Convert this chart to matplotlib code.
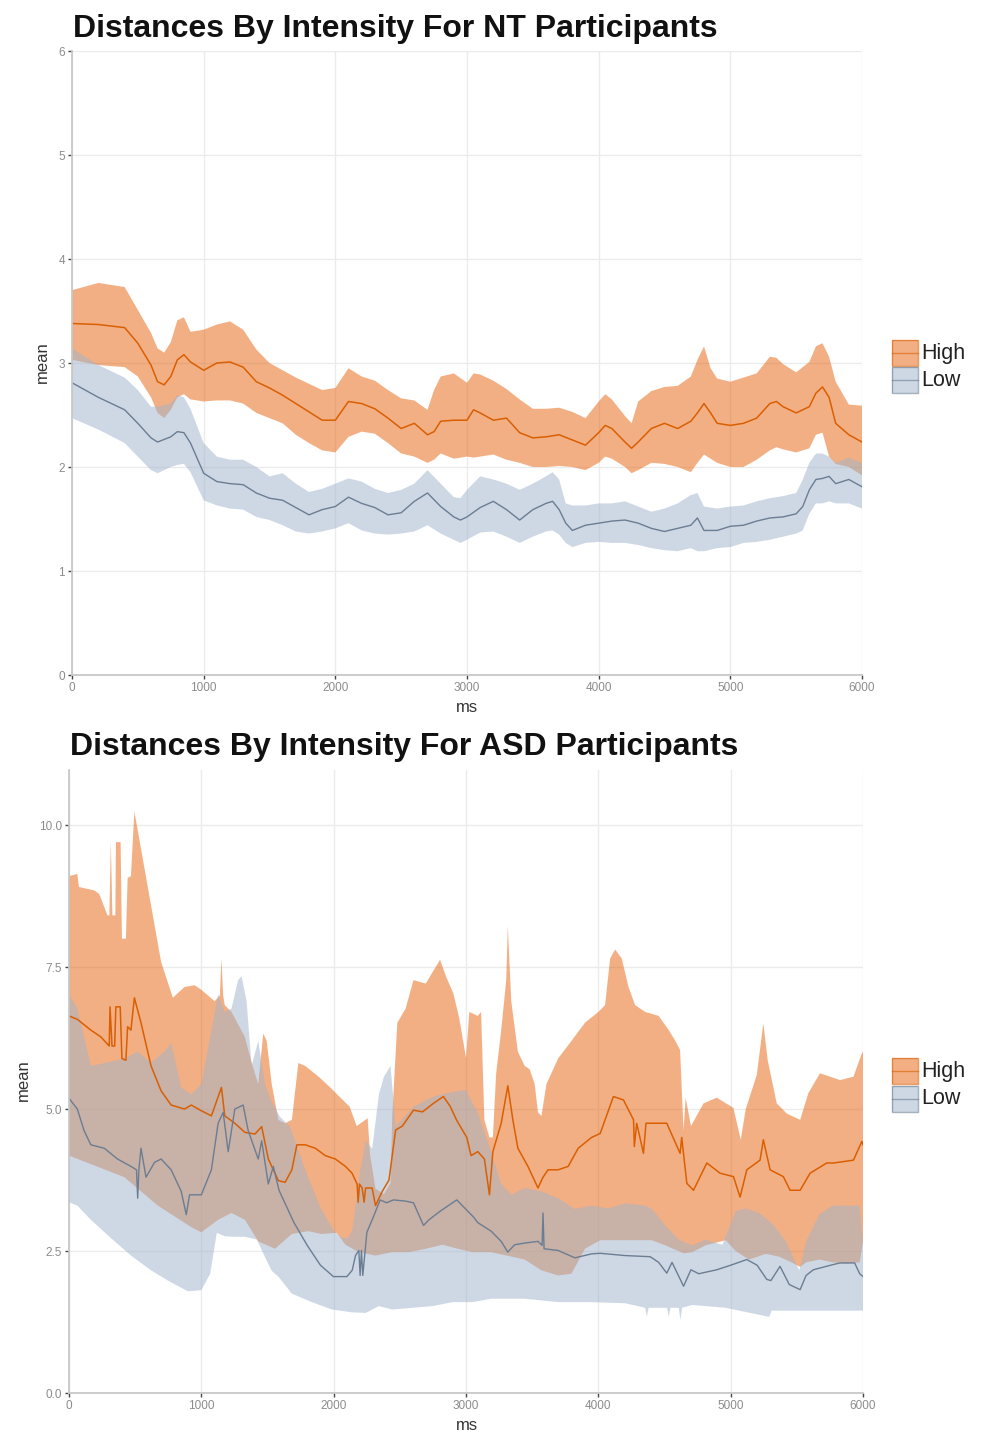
import numpy as np
import matplotlib
matplotlib.use("Agg")
import matplotlib.pyplot as plt
from matplotlib.patches import Rectangle
from matplotlib.lines import Line2D

plt.rcParams['font.family'] = ['Liberation Sans', 'DejaVu Sans']

# ---------------- NT participants ----------------
nt_high_ms = [0, 200, 400, 500, 600, 650, 700, 750, 800, 850, 900, 1000, 1100, 1200, 1300, 1400, 1500, 1600, 1700, 1800,
              1900, 2000, 2100, 2200, 2300, 2400, 2500, 2600, 2700, 2750, 2800, 2900, 3000, 3050, 3100, 3200, 3300, 3400, 3500, 3600,
              3700, 3800, 3900, 4000, 4050, 4100, 4200, 4250, 4300, 4400, 4500, 4600, 4700, 4750, 4800, 4850, 4900, 5000, 5100, 5200,
              5300, 5350, 5400, 5500, 5600, 5650, 5700, 5750, 5800, 5900, 6000]
nt_high_mean = [3.38, 3.37, 3.34, 3.19, 2.98, 2.82, 2.79, 2.87, 3.03, 3.08, 3.01, 2.93, 3.00, 3.01, 2.96, 2.82, 2.76, 2.69, 2.61, 2.53,
                2.45, 2.45, 2.63, 2.61, 2.56, 2.47, 2.37, 2.42, 2.31, 2.34, 2.44, 2.45, 2.45, 2.55, 2.52, 2.45, 2.47, 2.33, 2.28, 2.29,
                2.31, 2.26, 2.21, 2.33, 2.40, 2.37, 2.24, 2.18, 2.24, 2.37, 2.42, 2.37, 2.44, 2.52, 2.61, 2.52, 2.42, 2.40, 2.42, 2.47,
                2.61, 2.63, 2.58, 2.52, 2.58, 2.71, 2.77, 2.67, 2.42, 2.31, 2.24]
nt_high_upper = [3.70, 3.77, 3.73, 3.51, 3.29, 3.14, 3.10, 3.20, 3.41, 3.44, 3.30, 3.32, 3.37, 3.40, 3.32, 3.13, 3.00, 2.93, 2.86, 2.80,
                 2.74, 2.76, 2.95, 2.87, 2.83, 2.74, 2.66, 2.64, 2.55, 2.74, 2.87, 2.90, 2.81, 2.90, 2.89, 2.83, 2.75, 2.65, 2.56, 2.56,
                 2.57, 2.53, 2.47, 2.63, 2.70, 2.65, 2.49, 2.42, 2.63, 2.73, 2.77, 2.78, 2.87, 3.03, 3.16, 2.95, 2.85, 2.82, 2.86, 2.90,
                 3.06, 3.05, 2.99, 2.91, 3.01, 3.16, 3.19, 3.06, 2.82, 2.60, 2.59]
nt_high_lower = [3.03, 2.98, 2.96, 2.87, 2.67, 2.52, 2.47, 2.55, 2.67, 2.70, 2.65, 2.63, 2.64, 2.64, 2.61, 2.52, 2.47, 2.42, 2.31, 2.23,
                 2.16, 2.14, 2.29, 2.34, 2.32, 2.23, 2.13, 2.10, 2.04, 2.07, 2.13, 2.08, 2.10, 2.09, 2.10, 2.12, 2.07, 2.04, 2.00, 2.00,
                 2.01, 2.00, 1.97, 2.04, 2.10, 2.08, 2.00, 1.94, 1.97, 2.04, 2.03, 2.00, 1.95, 2.04, 2.12, 2.08, 2.04, 2.00, 2.00, 2.07,
                 2.16, 2.19, 2.17, 2.14, 2.18, 2.31, 2.33, 2.10, 2.03, 2.00, 1.92]

nt_low_ms = [0, 200, 400, 500, 600, 650, 750, 800, 850, 900, 1000, 1100, 1200, 1300, 1400, 1500, 1600, 1700, 1800, 1900,
             2000, 2100, 2200, 2300, 2400, 2500, 2600, 2700, 2800, 2900, 2950, 3000, 3100, 3200, 3300, 3400, 3500, 3600,
             3650, 3700, 3750, 3800, 3900, 4000, 4100, 4200, 4300, 4400, 4500, 4600, 4700, 4750, 4800, 4900, 5000, 5100,
             5200, 5300, 5400, 5500, 5550, 5600, 5650, 5700, 5750, 5800, 5900, 6000]
nt_low_mean = [2.81, 2.67, 2.55, 2.42, 2.28, 2.24, 2.29, 2.34, 2.33, 2.23, 1.94, 1.86, 1.84, 1.83, 1.75, 1.70, 1.68, 1.61, 1.54, 1.59,
               1.62, 1.71, 1.65, 1.61, 1.54, 1.56, 1.67, 1.75, 1.62, 1.52, 1.49, 1.52, 1.61, 1.67, 1.59, 1.49, 1.59, 1.65,
               1.67, 1.59, 1.46, 1.39, 1.44, 1.46, 1.48, 1.49, 1.46, 1.41, 1.38, 1.41, 1.44, 1.51, 1.39, 1.39, 1.43, 1.44,
               1.48, 1.51, 1.52, 1.55, 1.62, 1.78, 1.88, 1.89, 1.91, 1.84, 1.88, 1.81]
nt_low_upper = [3.14, 2.98, 2.86, 2.74, 2.58, 2.58, 2.61, 2.69, 2.67, 2.56, 2.23, 2.10, 2.07, 2.07, 2.00, 1.91, 1.94, 1.84, 1.76, 1.79,
                1.84, 1.89, 1.86, 1.79, 1.75, 1.78, 1.84, 1.97, 1.84, 1.71, 1.70, 1.78, 1.91, 1.88, 1.84, 1.78, 1.84, 1.91,
                1.95, 1.88, 1.65, 1.63, 1.63, 1.65, 1.65, 1.67, 1.62, 1.57, 1.60, 1.65, 1.73, 1.75, 1.62, 1.60, 1.62, 1.63,
                1.67, 1.70, 1.72, 1.75, 1.88, 2.04, 2.13, 2.13, 2.10, 2.04, 2.09, 2.04]
nt_low_lower = [2.47, 2.36, 2.23, 2.10, 1.97, 1.94, 2.00, 2.02, 2.03, 1.95, 1.68, 1.63, 1.60, 1.59, 1.52, 1.49, 1.44, 1.38, 1.36, 1.38,
                1.41, 1.46, 1.39, 1.36, 1.35, 1.36, 1.38, 1.44, 1.36, 1.30, 1.27, 1.30, 1.37, 1.38, 1.33, 1.27, 1.33, 1.38,
                1.39, 1.35, 1.27, 1.23, 1.27, 1.28, 1.27, 1.27, 1.25, 1.22, 1.20, 1.19, 1.22, 1.19, 1.19, 1.22, 1.23, 1.27,
                1.28, 1.30, 1.33, 1.36, 1.39, 1.55, 1.65, 1.65, 1.67, 1.65, 1.65, 1.60]

# ---------------- ASD participants ----------------
asd_high_mean_ms = [0, 63, 165, 241, 304, 310, 325, 345, 354, 387, 400, 430, 443, 468, 494, 544, 620, 696, 772, 873,
                    924, 1000, 1076, 1152, 1177, 1253, 1329, 1405, 1456, 1506, 1582, 1633, 1684, 1722, 1785, 1861, 1937, 2013, 2089, 2139,
                    2177, 2185, 2195, 2215, 2230, 2241, 2291, 2316, 2367, 2418, 2468, 2519, 2603, 2671, 2754, 2829, 2880, 2930, 3006, 3038,
                    3089, 3139, 3177, 3203, 3266, 3316, 3354, 3392, 3468, 3544, 3582, 3620, 3696, 3772, 3848, 3949, 4014, 4114, 4190, 4266,
                    4272, 4290, 4341, 4360, 4517, 4618, 4630, 4669, 4719, 4820, 4920, 5021, 5071, 5122, 5222, 5247, 5298, 5398, 5449, 5525,
                    5600, 5726, 5777, 5928, 5991, 6000]
asd_high_mean = [6.64, 6.58, 6.39, 6.27, 6.11, 6.80, 6.11, 6.11, 6.80, 6.80, 5.89, 5.86, 6.45, 6.39, 6.96, 6.52, 5.76, 5.32, 5.07, 5.00,
                 5.07, 4.97, 4.88, 5.38, 4.88, 4.75, 4.59, 4.56, 4.69, 4.12, 3.74, 3.71, 3.93, 4.37, 4.37, 4.31, 4.18, 4.12, 3.99, 3.87,
                 3.68, 3.36, 3.68, 3.61, 3.36, 3.61, 3.61, 3.30, 3.55, 3.75, 4.63, 4.70, 4.98, 4.95, 5.10, 5.22, 5.05, 4.80, 4.50, 4.18,
                 4.25, 4.12, 3.49, 4.25, 4.75, 5.41, 4.81, 4.31, 3.99, 3.61, 3.80, 3.93, 3.93, 3.99, 4.31, 4.50, 4.57, 5.22, 5.16, 4.81,
                 4.34, 4.75, 4.22, 4.75, 4.75, 4.22, 4.50, 3.69, 3.57, 4.05, 3.87, 3.81, 3.45, 3.93, 4.10, 4.46, 3.93, 3.81, 3.57, 3.57,
                 3.87, 4.05, 4.05, 4.10, 4.43, 4.37]

asd_high_upper_ms = [0, 63, 75, 190, 228, 291, 305, 316, 328, 350, 355, 390, 400, 430, 443, 468, 494, 696, 785, 873,
                     949, 1000, 1050, 1101, 1140, 1152, 1165, 1177, 1228, 1329, 1380, 1430, 1468, 1494, 1532, 1582, 1633, 1684, 1733, 1785,
                     1886, 1970, 2121, 2174, 2257, 2275, 2316, 2380, 2430, 2443, 2481, 2544, 2603, 2696, 2804, 2848, 2904, 2949,
                     3000, 3025, 3089, 3114, 3139, 3177, 3203, 3228, 3266, 3304, 3316, 3342, 3392, 3443, 3481, 3519, 3544, 3570, 3608, 3696,
                     3797, 3899, 4000, 4051, 4089, 4127, 4177, 4228, 4278, 4354, 4456, 4532, 4582, 4618, 4644, 4660, 4700, 4795, 4895, 5021,
                     5076, 5114, 5197, 5247, 5280, 5348, 5424, 5525, 5587, 5675, 5827, 5928, 5991, 6000]
asd_high_upper = [9.10, 9.14, 8.91, 8.85, 8.79, 8.41, 8.41, 9.70, 8.41, 8.41, 9.70, 9.70, 8.00, 8.00, 9.07, 9.10, 10.24, 7.59, 6.96, 7.15,
                  7.18, 7.10, 7.00, 6.90, 7.00, 7.65, 7.00, 6.83, 6.71, 6.27, 5.82, 5.44, 6.33, 6.20, 5.44, 4.81, 4.75, 4.81, 5.81, 5.76,
                  5.57, 5.39, 5.04, 4.70, 4.84, 4.20, 3.60, 3.50, 3.70, 4.90, 6.52, 6.77, 7.27, 7.21, 7.63, 7.34, 7.04, 6.60,
                  5.90, 6.71, 6.64, 6.71, 4.81, 4.50, 4.50, 5.63, 6.39, 7.27, 8.22, 6.90, 6.01, 5.76, 5.70, 5.44, 4.94, 4.88, 5.44, 5.89,
                  6.20, 6.52, 6.71, 6.83, 7.65, 7.81, 7.65, 7.15, 6.83, 6.71, 6.64, 6.39, 6.20, 6.04, 4.62, 5.20, 4.70, 5.10, 5.20, 5.02,
                  4.46, 5.00, 5.60, 6.51, 5.86, 5.10, 4.92, 4.81, 5.28, 5.63, 5.51, 5.57, 5.98, 6.01]

asd_high_lower_ms = [0, 165, 418, 671, 924, 1000, 1127, 1228, 1329, 1430, 1557, 1684, 1810, 1906, 2023, 2089, 2190, 2316, 2443, 2570,
                     2696, 2823, 2937, 3051, 3190, 3443, 3570, 3696, 3797, 3899, 4014, 4203, 4405, 4506, 4644, 4709, 4810, 4962, 5038, 5139,
                     5266, 5367, 5468, 5525, 5570, 5671, 5772, 5873, 5975, 6000]
asd_high_lower = [4.18, 4.03, 3.80, 3.30, 2.92, 2.83, 3.05, 3.17, 3.05, 2.67, 2.54, 2.80, 2.85, 2.80, 2.82, 2.61, 2.48, 2.42, 2.48, 2.48,
                  2.54, 2.61, 2.54, 2.48, 2.48, 2.35, 2.16, 2.07, 2.10, 2.54, 2.69, 2.69, 2.69, 2.60, 2.46, 2.48, 2.60, 2.69, 2.50, 2.35,
                  2.45, 2.40, 2.29, 2.22, 2.30, 2.35, 2.30, 2.28, 2.30, 2.67]

asd_low_mean_ms = [0, 63, 114, 165, 266, 367, 468, 510, 519, 528, 544, 582, 646, 696, 772, 848, 886, 911, 1000, 1076,
                   1127, 1165, 1203, 1253, 1316, 1354, 1430, 1456, 1506, 1544, 1587, 1700, 1800, 1900, 1998, 2100, 2140, 2165, 2190, 2200,
                   2210, 2220, 2251, 2300, 2351, 2400, 2452, 2540, 2603, 2679, 2720, 2804, 2930, 3056, 3089, 3190,
                   3266, 3316, 3367, 3443, 3544, 3575, 3582, 3590, 3696, 3823, 3949, 4014, 4203, 4392, 4456, 4517, 4557, 4644, 4700, 4759,
                   4895, 5000, 5122, 5200, 5273, 5304, 5373, 5443, 5525, 5570, 5625, 5772, 5827, 5937, 5975, 6000]
asd_low_mean = [5.19, 5.00, 4.62, 4.37, 4.31, 4.12, 3.99, 3.93, 3.43, 3.93, 4.31, 3.80, 4.06, 4.12, 3.93, 3.55, 3.14, 3.49, 3.49, 3.93,
                4.75, 4.94, 4.25, 5.00, 5.07, 4.62, 4.12, 4.44, 3.68, 3.99, 3.57, 3.00, 2.60, 2.25, 2.05, 2.05, 2.16, 2.42, 2.51, 2.07,
                2.51, 2.07, 2.83, 3.10, 3.40, 3.35, 3.40, 3.38, 3.35, 2.95, 3.05, 3.20, 3.40, 3.10, 3.00, 2.85,
                2.67, 2.48, 2.61, 2.64, 2.67, 2.60, 3.17, 2.54, 2.51, 2.38, 2.45, 2.46, 2.42, 2.40, 2.30, 2.11, 2.30, 1.88, 2.17, 2.10,
                2.17, 2.25, 2.35, 2.25, 2.00, 1.98, 2.23, 1.91, 1.82, 2.07, 2.17, 2.26, 2.29, 2.29, 2.10, 2.05]

asd_low_upper_ms = [0, 63, 165, 291, 418, 519, 620, 722, 772, 848, 924, 1000, 1076, 1127, 1177, 1228, 1278, 1304, 1342, 1380,
                    1430, 1481, 1532, 1595, 1670, 1796, 1897, 1998, 2050, 2100, 2140, 2200, 2241, 2291, 2342, 2380, 2430, 2468, 2603,
                    2754, 2899, 3006, 3013, 3089, 3190, 3266, 3342, 3443, 3570, 3696, 3823, 3949, 4076, 4203, 4354, 4405, 4506, 4608,
                    4709, 4810, 4937, 5038, 5114, 5215, 5316, 5418, 5519, 5570, 5671, 5772, 5873, 5975, 6000]
asd_low_upper = [7.02, 6.77, 5.76, 5.82, 5.89, 6.01, 5.82, 6.01, 6.17, 5.38, 5.26, 5.44, 6.39, 7.02, 6.71, 6.77, 7.27, 7.34, 6.90, 5.76,
                 6.20, 5.44, 5.13, 4.86, 4.69, 3.87, 3.28, 2.87, 2.75, 2.72, 2.85, 3.90, 4.44, 4.30, 5.26, 5.57, 5.76, 4.69, 5.04,
                 5.22, 5.30, 5.34, 5.26, 4.94, 4.25, 3.68, 3.49, 3.61, 3.55, 3.43, 3.24, 3.30, 3.25, 3.34, 3.30, 3.24, 2.95, 2.70,
                 2.60, 2.70, 2.61, 3.20, 3.25, 3.17, 2.98, 2.67, 2.16, 2.67, 3.15, 3.30, 3.30, 3.30, 2.67]

asd_low_lower_ms = [0, 63, 165, 316, 468, 620, 747, 899, 1000, 1067, 1117, 1177, 1253, 1329, 1420, 1480, 1532, 1582, 1684, 1835,
                    1987, 2139, 2241, 2342, 2443, 2595, 2747, 2899, 3051, 3190, 3443, 3696, 3949, 4203, 4354, 4367, 4380, 4519, 4532, 4545,
                    4608, 4620, 4633, 4709, 4962, 5291, 5310, 5468, 5722, 6000]
asd_low_lower = [3.36, 3.30, 3.05, 2.73, 2.42, 2.16, 1.98, 1.79, 1.81, 2.10, 2.82, 2.76, 2.75, 2.75, 2.70, 2.40, 2.15, 2.05, 1.75, 1.60,
                 1.47, 1.42, 1.41, 1.53, 1.47, 1.50, 1.53, 1.60, 1.60, 1.66, 1.66, 1.60, 1.60, 1.58, 1.50, 1.34, 1.50, 1.50, 1.34, 1.50,
                 1.50, 1.28, 1.50, 1.55, 1.50, 1.34, 1.45, 1.45, 1.45, 1.45]

x_ticks = [0, 1000, 2000, 3000, 4000, 5000, 6000]
nt_y_ticks = [0, 1, 2, 3, 4, 5, 6]
asd_y_ticks = [0.0, 2.5, 5.0, 7.5, 10.0]
groups = ["High", "Low"]

HIGH_FILL = "#E9610B"
LOW_FILL = "#9FB3CB"
HIGH_LINE = "#D95F02"
LOW_LINE = "#6B7D93"
ALPHA = 0.5

W, H = 983, 1433
fig = plt.figure(figsize=(W / 100, H / 100), dpi=100)


def fx(px):
    return px / W


def fy(py):
    return 1 - py / H


def ribbon(ax, xu, yu, xl, yl, color):
    xs = np.concatenate([np.asarray(xu, float), np.asarray(xl, float)[::-1]])
    ys = np.concatenate([np.asarray(yu, float), np.asarray(yl, float)[::-1]])
    ax.fill(xs, ys, color=color, alpha=ALPHA, linewidth=0)


def style(ax, yticks, ylabels, ymax):
    ax.set_xlim(0, 6000)
    ax.set_ylim(0, ymax)
    ax.set_xticks(x_ticks)
    ax.set_xticklabels([str(t) for t in x_ticks])
    ax.set_yticks(yticks)
    ax.set_yticklabels(ylabels)
    ax.grid(True, color="#EBEBEB", linewidth=1.0)
    ax.set_axisbelow(True)
    for s in ["top", "right"]:
        ax.spines[s].set_visible(False)
    for s in ["left", "bottom"]:
        ax.spines[s].set_color("#C8C8C8")
        ax.spines[s].set_linewidth(1.3)
    ax.tick_params(axis="both", colors="#444444", labelcolor="#8C8C8C", labelsize=8.5,
                   length=3, width=1, pad=2)


def legend(y_high, y_low):
    for (yc, fc, lc, lab) in [(y_high, HIGH_FILL, HIGH_LINE, groups[0]), (y_low, LOW_FILL, LOW_LINE, groups[1])]:
        x0, x1 = 892, 918
        h = 26
        fig.add_artist(Rectangle((fx(x0), fy(yc + h / 2)), fx(x1) - fx(x0), h / H,
                                 transform=fig.transFigure, facecolor=fc, alpha=ALPHA, edgecolor="none"))
        fig.add_artist(Rectangle((fx(x0), fy(yc + h / 2)), fx(x1) - fx(x0), h / H,
                                 transform=fig.transFigure, facecolor="none", edgecolor=lc, linewidth=1.0, alpha=0.6))
        fig.add_artist(Line2D([fx(x0), fx(x1)], [fy(yc), fy(yc)], transform=fig.transFigure,
                              color=lc, linewidth=1.0, alpha=0.6))
        fig.text(fx(921), fy(yc), lab, fontsize=15.5, color="#222222", va="center", ha="left")


# ---- top panel ----
ax1 = fig.add_axes([fx(72), fy(675), fx(862) - fx(72), fy(51) - fy(675)])
ribbon(ax1, nt_high_ms, nt_high_upper, nt_high_ms, nt_high_lower, HIGH_FILL)
ribbon(ax1, nt_low_ms, nt_low_upper, nt_low_ms, nt_low_lower, LOW_FILL)
ax1.plot(nt_high_ms, nt_high_mean, color=HIGH_LINE, linewidth=1.1)
ax1.plot(nt_low_ms, nt_low_mean, color=LOW_LINE, linewidth=1.0)
style(ax1, nt_y_ticks, [str(t) for t in nt_y_ticks], 6)
fig.text(fx(73), fy(37), "Distances By Intensity For NT Participants", fontsize=23,
         fontweight="bold", ha="left", va="baseline", color="#111111")
fig.text(fx(467), fy(708), "ms", fontsize=12, ha="center", va="center", color="#333333")
fig.text(fx(42), fy(362), "mean", fontsize=12, ha="center", va="center", rotation=90, color="#333333")
legend(353, 380)

# ---- bottom panel ----
ax2 = fig.add_axes([fx(69), fy(1393), fx(863) - fx(69), fy(770) - fy(1393)])
ribbon(ax2, asd_high_upper_ms, asd_high_upper, asd_high_lower_ms, asd_high_lower, HIGH_FILL)
ribbon(ax2, asd_low_upper_ms, asd_low_upper, asd_low_lower_ms, asd_low_lower, LOW_FILL)
ax2.plot(asd_high_mean_ms, asd_high_mean, color=HIGH_LINE, linewidth=1.1)
ax2.plot(asd_low_mean_ms, asd_low_mean, color=LOW_LINE, linewidth=1.0)
style(ax2, asd_y_ticks, ["%.1f" % t for t in asd_y_ticks], 10.97)
fig.text(fx(70), fy(755), "Distances By Intensity For ASD Participants", fontsize=23,
         fontweight="bold", ha="left", va="baseline", color="#111111")
fig.text(fx(467), fy(1425), "ms", fontsize=12, ha="center", va="center", color="#333333")
fig.text(fx(23), fy(1080), "mean", fontsize=12, ha="center", va="center", rotation=90, color="#333333")
legend(1071, 1099)

fig.savefig("out.png", dpi=100)
